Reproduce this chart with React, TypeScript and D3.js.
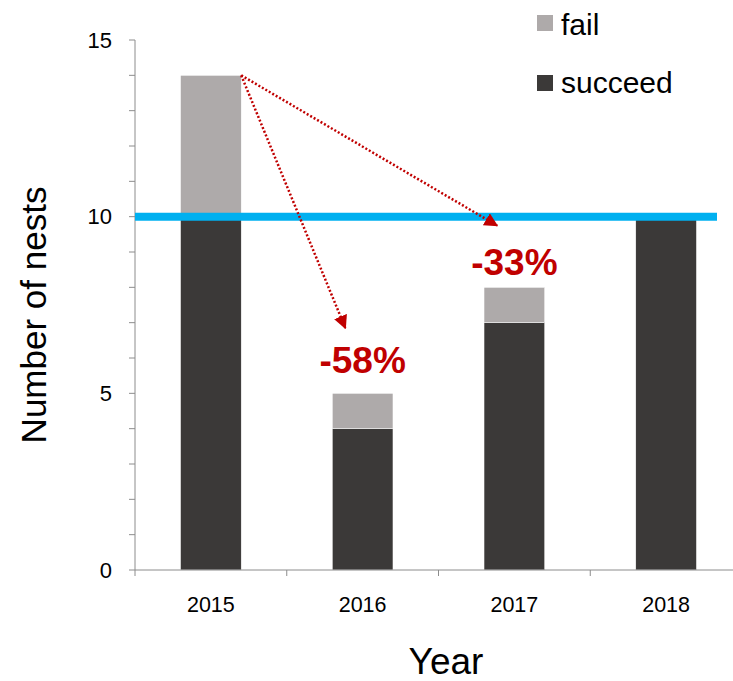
import React from "react";
import * as d3 from "d3";

const years = ["2015", "2016", "2017", "2018"];
const succeed = [10, 4, 7, 10];
const fail = [4, 1, 1, 0];
const yTicks = [0, 5, 10, 15];
const targetLine = 10;
const annotations = [
  { from: "2015", fromVal: 14, toYear: "2016", toVal: 6.85, label: "-58%", labelVal: 5.58 },
  { from: "2015", fromVal: 14, toYear: "2017", toVal: 9.75, label: "-33%", labelVal: 8.36 },
];

const W = 733, H = 681;
const left = 135, right = 742, top = 40, bottom = 570;

export default function App() {
  const x = d3.scaleBand<string>().domain(years).range([left, right]).paddingInner(0.6).paddingOuter(0.3);
  const y = d3.scaleLinear().domain([0, 15]).range([bottom, top]);
  const band = (right - left) / years.length;
  const font = "'Liberation Sans', Arial, sans-serif";
  const red = "#c00000";
  return (
    <svg width={W} height={H} style={{ position: "absolute", left: 0, top: 0 }} fontFamily={font}>
      <defs>
        <marker id="ah" viewBox="0 0 10 10" refX="9" refY="5" markerWidth="5.5" markerHeight="5.5" orient="auto" markerUnits="strokeWidth">
          <path d="M0,0 L10,5 L0,10 z" fill={red} />
        </marker>
      </defs>
      {/* bars */}
      {years.map((yr, i) => (
        <g key={yr}>
          <rect x={x(yr)} y={y(succeed[i])} width={x.bandwidth()} height={y(0) - y(succeed[i])} fill="#3b3938" stroke="#fff" strokeWidth={0.5} />
          {fail[i] > 0 && (
            <rect x={x(yr)} y={y(succeed[i] + fail[i])} width={x.bandwidth()} height={y(succeed[i]) - y(succeed[i] + fail[i])} fill="#aeaaaa" stroke="#fff" strokeWidth={0.5} />
          )}
        </g>
      ))}
      {/* y axis */}
      <line x1={left} x2={left} y1={top} y2={bottom} stroke="#8c8c8c" strokeWidth={1} />
      {d3.range(0, 16).map((v) => (
        <line key={v} x1={left - 6} x2={left} y1={y(v)} y2={y(v)} stroke="#8c8c8c" strokeWidth={1} />
      ))}
      {yTicks.map((v) => (
        <text key={v} x={left - 23} y={y(v)} dy="0.35em" textAnchor="end" fontSize={22} fill="#000">{v}</text>
      ))}
      {/* x axis */}
      <line x1={left} x2={right} y1={bottom} y2={bottom} stroke="#8c8c8c" strokeWidth={1} />
      {d3.range(0, years.length + 1).map((i) => (
        <line key={i} x1={left + i * band} x2={left + i * band} y1={bottom} y2={bottom + 6} stroke="#8c8c8c" strokeWidth={1} />
      ))}
      {years.map((yr) => (
        <text key={yr} x={x(yr)! + x.bandwidth() / 2} y={bottom + 42} textAnchor="middle" fontSize={21.5} fill="#000">{yr}</text>
      ))}
      {/* target line */}
      <line x1={left} x2={717} y1={y(targetLine)} y2={y(targetLine)} stroke="#00b0f0" strokeWidth={8} />
      {/* annotations */}
      {annotations.map((a) => (
        <g key={a.label}>
          <line x1={x(a.from)! + x.bandwidth()} y1={y(a.fromVal)} x2={x(a.toYear)! + 13} y2={y(a.toVal)} stroke={red} strokeWidth={2.5} strokeDasharray="2 2" markerEnd="url(#ah)" />
          <text x={x(a.toYear)! + x.bandwidth() / 2} y={y(a.labelVal)} textAnchor="middle" fontSize={37} fontWeight="bold" fill={red}>{a.label}</text>
        </g>
      ))}
      {/* legend */}
      <rect x={537} y={15} width={16} height={16} fill="#aeaaaa" />
      <text x={561} y={35} fontSize={30} fill="#000">fail</text>
      <rect x={537} y={75} width={16} height={16} fill="#3b3938" />
      <text x={561} y={93} fontSize={30} fill="#000">succeed</text>
      {/* axis titles */}
      <text transform={`translate(46,${(top + bottom) / 2 + 10}) rotate(-90)`} textAnchor="middle" fontSize={35} fill="#000">Number of nests</text>
      <text x={446} y={674} textAnchor="middle" fontSize={37} fill="#000">Year</text>
    </svg>
  );
}
